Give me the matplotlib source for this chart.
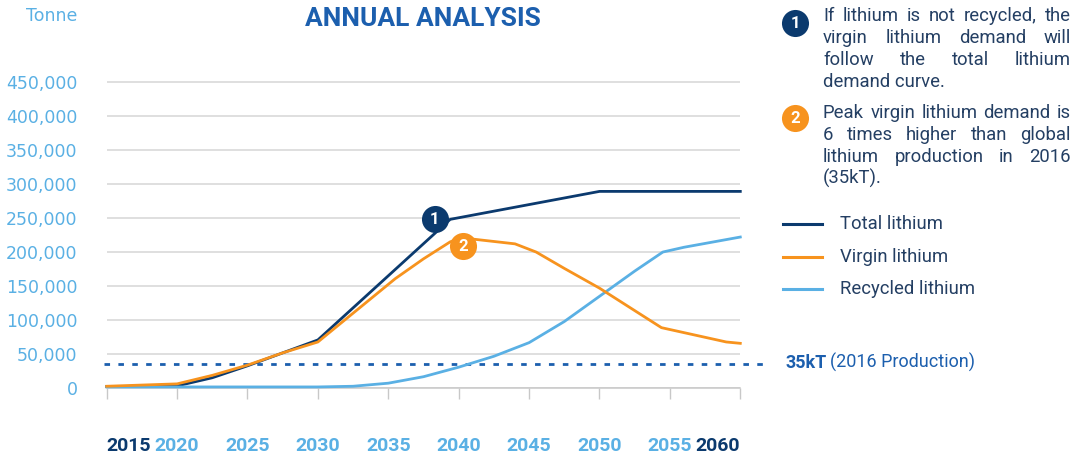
import matplotlib
matplotlib.use("Agg")
import matplotlib.pyplot as plt
from matplotlib.ticker import FuncFormatter

# Data (tonnes of lithium per year)
years_total = [2015, 2018, 2020, 2022.5, 2025, 2027.5, 2030, 2039.4, 2050, 2060]
total = [2500, 3000, 3500, 15500, 33000, 52000, 71000, 248000, 289000, 289000]

years_virgin = [2015, 2020, 2022.5, 2025, 2027.5, 2030, 2035.5, 2037.5, 2039.4,
                2040.2, 2041, 2044, 2045.5, 2047.5, 2050, 2054.4, 2059, 2060]
virgin = [3000, 6500, 19000, 34000, 52000, 68000, 161000, 190000, 215000,
          221000, 219000, 212000, 200000, 176000, 147000, 89000, 68000, 66000]

years_recycled = [2015, 2030, 2032.5, 2035, 2037.5, 2040, 2042.5, 2045, 2047.5,
                  2050, 2052.5, 2054.5, 2056, 2060]
recycled = [2000, 2000, 3000, 7500, 17000, 31000, 47000, 67000, 98000,
            135000, 172000, 200000, 207000, 222000]

production_2016 = 35000
tick_years = [2015, 2020, 2025, 2030, 2035, 2040, 2045, 2050, 2055, 2060]
y_ticks = [0, 50000, 100000, 150000, 200000, 250000, 300000, 350000, 400000, 450000]

note_1 = ["If lithium is not recycled, the", "virgin lithium demand will",
          "follow the total lithium", "demand curve."]
note_2 = ["Peak virgin lithium demand is", "6 times higher than global",
          "lithium production in 2016", "(35kT)."]
series_names = ["Total lithium", "Virgin lithium", "Recycled lithium"]

NAVY = "#0b3a6e"
ORANGE = "#f7931e"
LIGHT = "#5ab0e4"
BLUE = "#1c5fae"
TEXT = "#243f63"
GRID = "#d6d6d6"

fig = plt.figure(figsize=(10.88, 4.65), dpi=100)
ax = fig.add_axes([0.09807, 0.16495, 0.58235, 0.6740])

ax.plot(years_total, total, color=NAVY, lw=2, zorder=3, clip_on=False)
ax.plot(years_virgin, virgin, color=ORANGE, lw=2, zorder=3.2, clip_on=False)
ax.plot(years_recycled, recycled, color=LIGHT, lw=2, zorder=3.1, clip_on=False)

# 2016 production reference line, running past the plot
ax.plot([2014.8, 2061.8], [production_2016, production_2016], color=BLUE, lw=2,
        dashes=(2, 3), clip_on=False, zorder=2)

ax.set_xlim(2015, 2060)
ax.set_ylim(0, 460000)
ax.set_yticks(y_ticks[1:] + [0])
ax.yaxis.set_major_formatter(FuncFormatter(lambda v, p: f"{v:,.0f}"))
ax.grid(axis="y", color=GRID, lw=1.1)
ax.set_axisbelow(True)
for s in ["top", "right", "left"]:
    ax.spines[s].set_visible(False)
ax.spines["bottom"].set_color("#c8c8c8")
ax.spines["bottom"].set_linewidth(1.1)
ax.tick_params(axis="y", length=0, pad=21, labelsize=12.5, labelcolor=LIGHT)
for lbl in ax.get_yticklabels():
    lbl.set_fontfamily("DejaVu Sans")

ax.set_xticks(tick_years)
ax.set_xticklabels([str(y) for y in tick_years])
ax.tick_params(axis="x", length=8, width=1, color="#c8c8c8", pad=27)
for lbl, yr in zip(ax.get_xticklabels(), tick_years):
    lbl.set_fontfamily("Roboto")
    lbl.set_fontweight("bold")
    lbl.set_fontsize(14)
    lbl.set_color(NAVY if yr in (2015, 2060) else LIGHT)
    if yr == 2015:
        lbl.set_horizontalalignment("left")
    elif yr == 2060:
        lbl.set_horizontalalignment("right")

# numbered markers on the curves
ax.scatter([2038.3], [248300], s=380, color=NAVY, zorder=5, clip_on=False, lw=0)
ax.text(2038.3, 248300, "1", color="white", fontsize=12, fontweight="bold",
        family="Roboto", ha="center", va="center", zorder=6)
ax.scatter([2040.3], [208800], s=380, color=ORANGE, zorder=5, clip_on=False, lw=0)
ax.text(2040.3, 208800, "2", color="white", fontsize=12, fontweight="bold",
        family="Roboto", ha="center", va="center", zorder=6)

# overlay in pixel coordinates for the surrounding text
ov = fig.add_axes([0, 0, 1, 1])
ov.set_xlim(0, 1088)
ov.set_ylim(465, 0)
ov.axis("off")
ov.patch.set_alpha(0)

ov.text(423, 26, "ANNUAL ANALYSIS", color=BLUE, fontsize=19, fontweight="bold",
        family="Roboto", ha="center", va="baseline")
ov.text(77, 20.7, "Tonne", color=LIGHT, fontsize=12.5, family="DejaVu Sans",
        ha="right", va="baseline")

t1 = ov.text(785, 368, "35kT", color=BLUE, fontsize=13, fontweight="bold",
             family="Roboto", va="baseline")
renderer = fig.canvas.get_renderer()
w1 = t1.get_window_extent(renderer).width
ov.text(785 + w1 + 4, 368, "(2016 Production)", color=BLUE, fontsize=13,
        family="Roboto", va="baseline")


def justified(lines, x0, x1, y0, step):
    for i, line in enumerate(lines):
        y = y0 + i * step
        words = line.split()
        if i == len(lines) - 1:
            ov.text(x0, y, line, color=TEXT, fontsize=13.3, family="Roboto",
                    va="baseline")
            continue
        objs = [ov.text(x0, y, w, color=TEXT, fontsize=13.3, family="Roboto",
                        va="baseline") for w in words]
        widths = [o.get_window_extent(renderer).width for o in objs]
        gap = (x1 - x0 - sum(widths)) / max(len(words) - 1, 1)
        x = x0
        for o, w in zip(objs, widths):
            o.set_x(x)
            x += w + gap


justified(note_1, 823, 1071, 20.7, 22)
justified(note_2, 823, 1071, 118.3, 21.7)

ov.scatter([795], [23.3], s=380, color=NAVY, lw=0)
ov.text(795, 23.3, "1", color="white", fontsize=12, fontweight="bold",
        family="Roboto", ha="center", va="center")
ov.scatter([795], [118.3], s=380, color=ORANGE, lw=0)
ov.text(795, 118.3, "2", color="white", fontsize=12, fontweight="bold",
        family="Roboto", ha="center", va="center")

for name, col, ly in zip(series_names, [NAVY, ORANGE, LIGHT], [224, 257, 289]):
    ov.plot([783, 822], [ly, ly], color=col, lw=2.2)
    ov.text(840, ly, name, color=TEXT, fontsize=13.3, family="Roboto",
            va="center")

fig.savefig("out.png", dpi=100)
